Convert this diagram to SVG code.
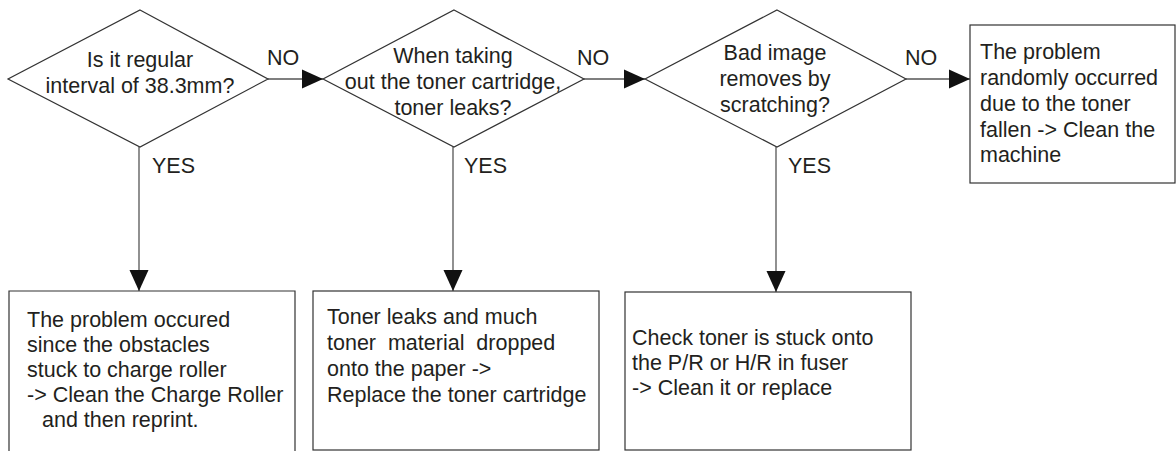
<svg xmlns="http://www.w3.org/2000/svg" width="1176" height="451" viewBox="0 0 1176 451">
<style>
.shape{fill:#fff;stroke:#333;stroke-width:1.2}
.conn{fill:none;stroke:#555;stroke-width:1.3}
text{font-family:"Liberation Sans",Arial,sans-serif;font-size:21.5px;fill:#231f20}
.c{text-anchor:middle}
</style>
<defs>
<marker id="arr" markerUnits="userSpaceOnUse" markerWidth="22" markerHeight="20" refX="21" refY="9.5" orient="auto" viewBox="0 0 22 19">
<path d="M0,0 L21,9.5 L0,19 Z" fill="#111"/>
</marker>
</defs>
<rect width="1176" height="451" fill="#fff"/>
<g id="connectors">
<line class="conn" x1="268" y1="79" x2="323" y2="79" marker-end="url(#arr)"/>
<line class="conn" x1="584" y1="79" x2="645" y2="79" marker-end="url(#arr)"/>
<line class="conn" x1="906" y1="79" x2="970" y2="79" marker-end="url(#arr)"/>
<line class="conn" x1="139" y1="147" x2="139" y2="291" marker-end="url(#arr)"/>
<line class="conn" x1="453" y1="147" x2="453" y2="291" marker-end="url(#arr)"/>
<line class="conn" x1="776" y1="147" x2="776" y2="292" marker-end="url(#arr)"/>
<text x="267" y="65">NO</text>
<text x="577" y="65">NO</text>
<text x="905" y="65">NO</text>
<text x="152" y="173">YES</text>
<text x="464" y="173">YES</text>
<text x="788" y="173">YES</text>
</g>
<g id="d1">
<polygon class="shape" points="140,10 268,79 140,147 8,79"/>
<text class="c" x="140" y="67">Is it regular</text>
<text class="c" x="140" y="93">interval of 38.3mm?</text>
</g>
<g id="d2">
<polygon class="shape" points="454,10 584,79 454,147 323,79"/>
<text class="c" x="453" y="63">When taking</text>
<text class="c" x="453" y="89">out the toner cartridge,</text>
<text class="c" x="453" y="115">toner leaks?</text>
</g>
<g id="d3">
<polygon class="shape" points="777,10 906,79 777,147 645,79"/>
<text class="c" x="775" y="60">Bad image</text>
<text class="c" x="775" y="86">removes by</text>
<text class="c" x="775" y="112">scratching?</text>
</g>
<g id="b4">
<rect class="shape" x="970" y="25" width="205" height="158"/>
<text x="980" y="59">The problem</text>
<text x="980" y="85">randomly occurred</text>
<text x="980" y="111">due to the toner</text>
<text x="980" y="137">fallen -&gt; Clean the</text>
<text x="980" y="162">machine</text>
</g>
<g id="b1">
<path class="shape" d="M9,452 L9,291 L295,291 L295,452"/>
<text x="27" y="327">The problem occured</text>
<text x="27" y="352">since the obstacles</text>
<text x="27" y="377">stuck to charge roller</text>
<text x="27" y="402">-&gt; Clean the Charge Roller</text>
<text x="42" y="427">and then reprint.</text>
</g>
<g id="b2">
<rect class="shape" x="313" y="291" width="286" height="159"/>
<text x="327" y="324" xml:space="preserve">Toner leaks and much</text>
<text x="327" y="350" xml:space="preserve">toner  material  dropped</text>
<text x="327" y="376">onto the paper -&gt;</text>
<text x="327" y="402">Replace the toner cartridge</text>
</g>
<g id="b3">
<rect class="shape" x="625" y="292" width="286" height="158"/>
<text x="632" y="345">Check toner is stuck onto</text>
<text x="632" y="370">the P/R or H/R in fuser</text>
<text x="632" y="395">-&gt; Clean it or replace</text>
</g>
</svg>
